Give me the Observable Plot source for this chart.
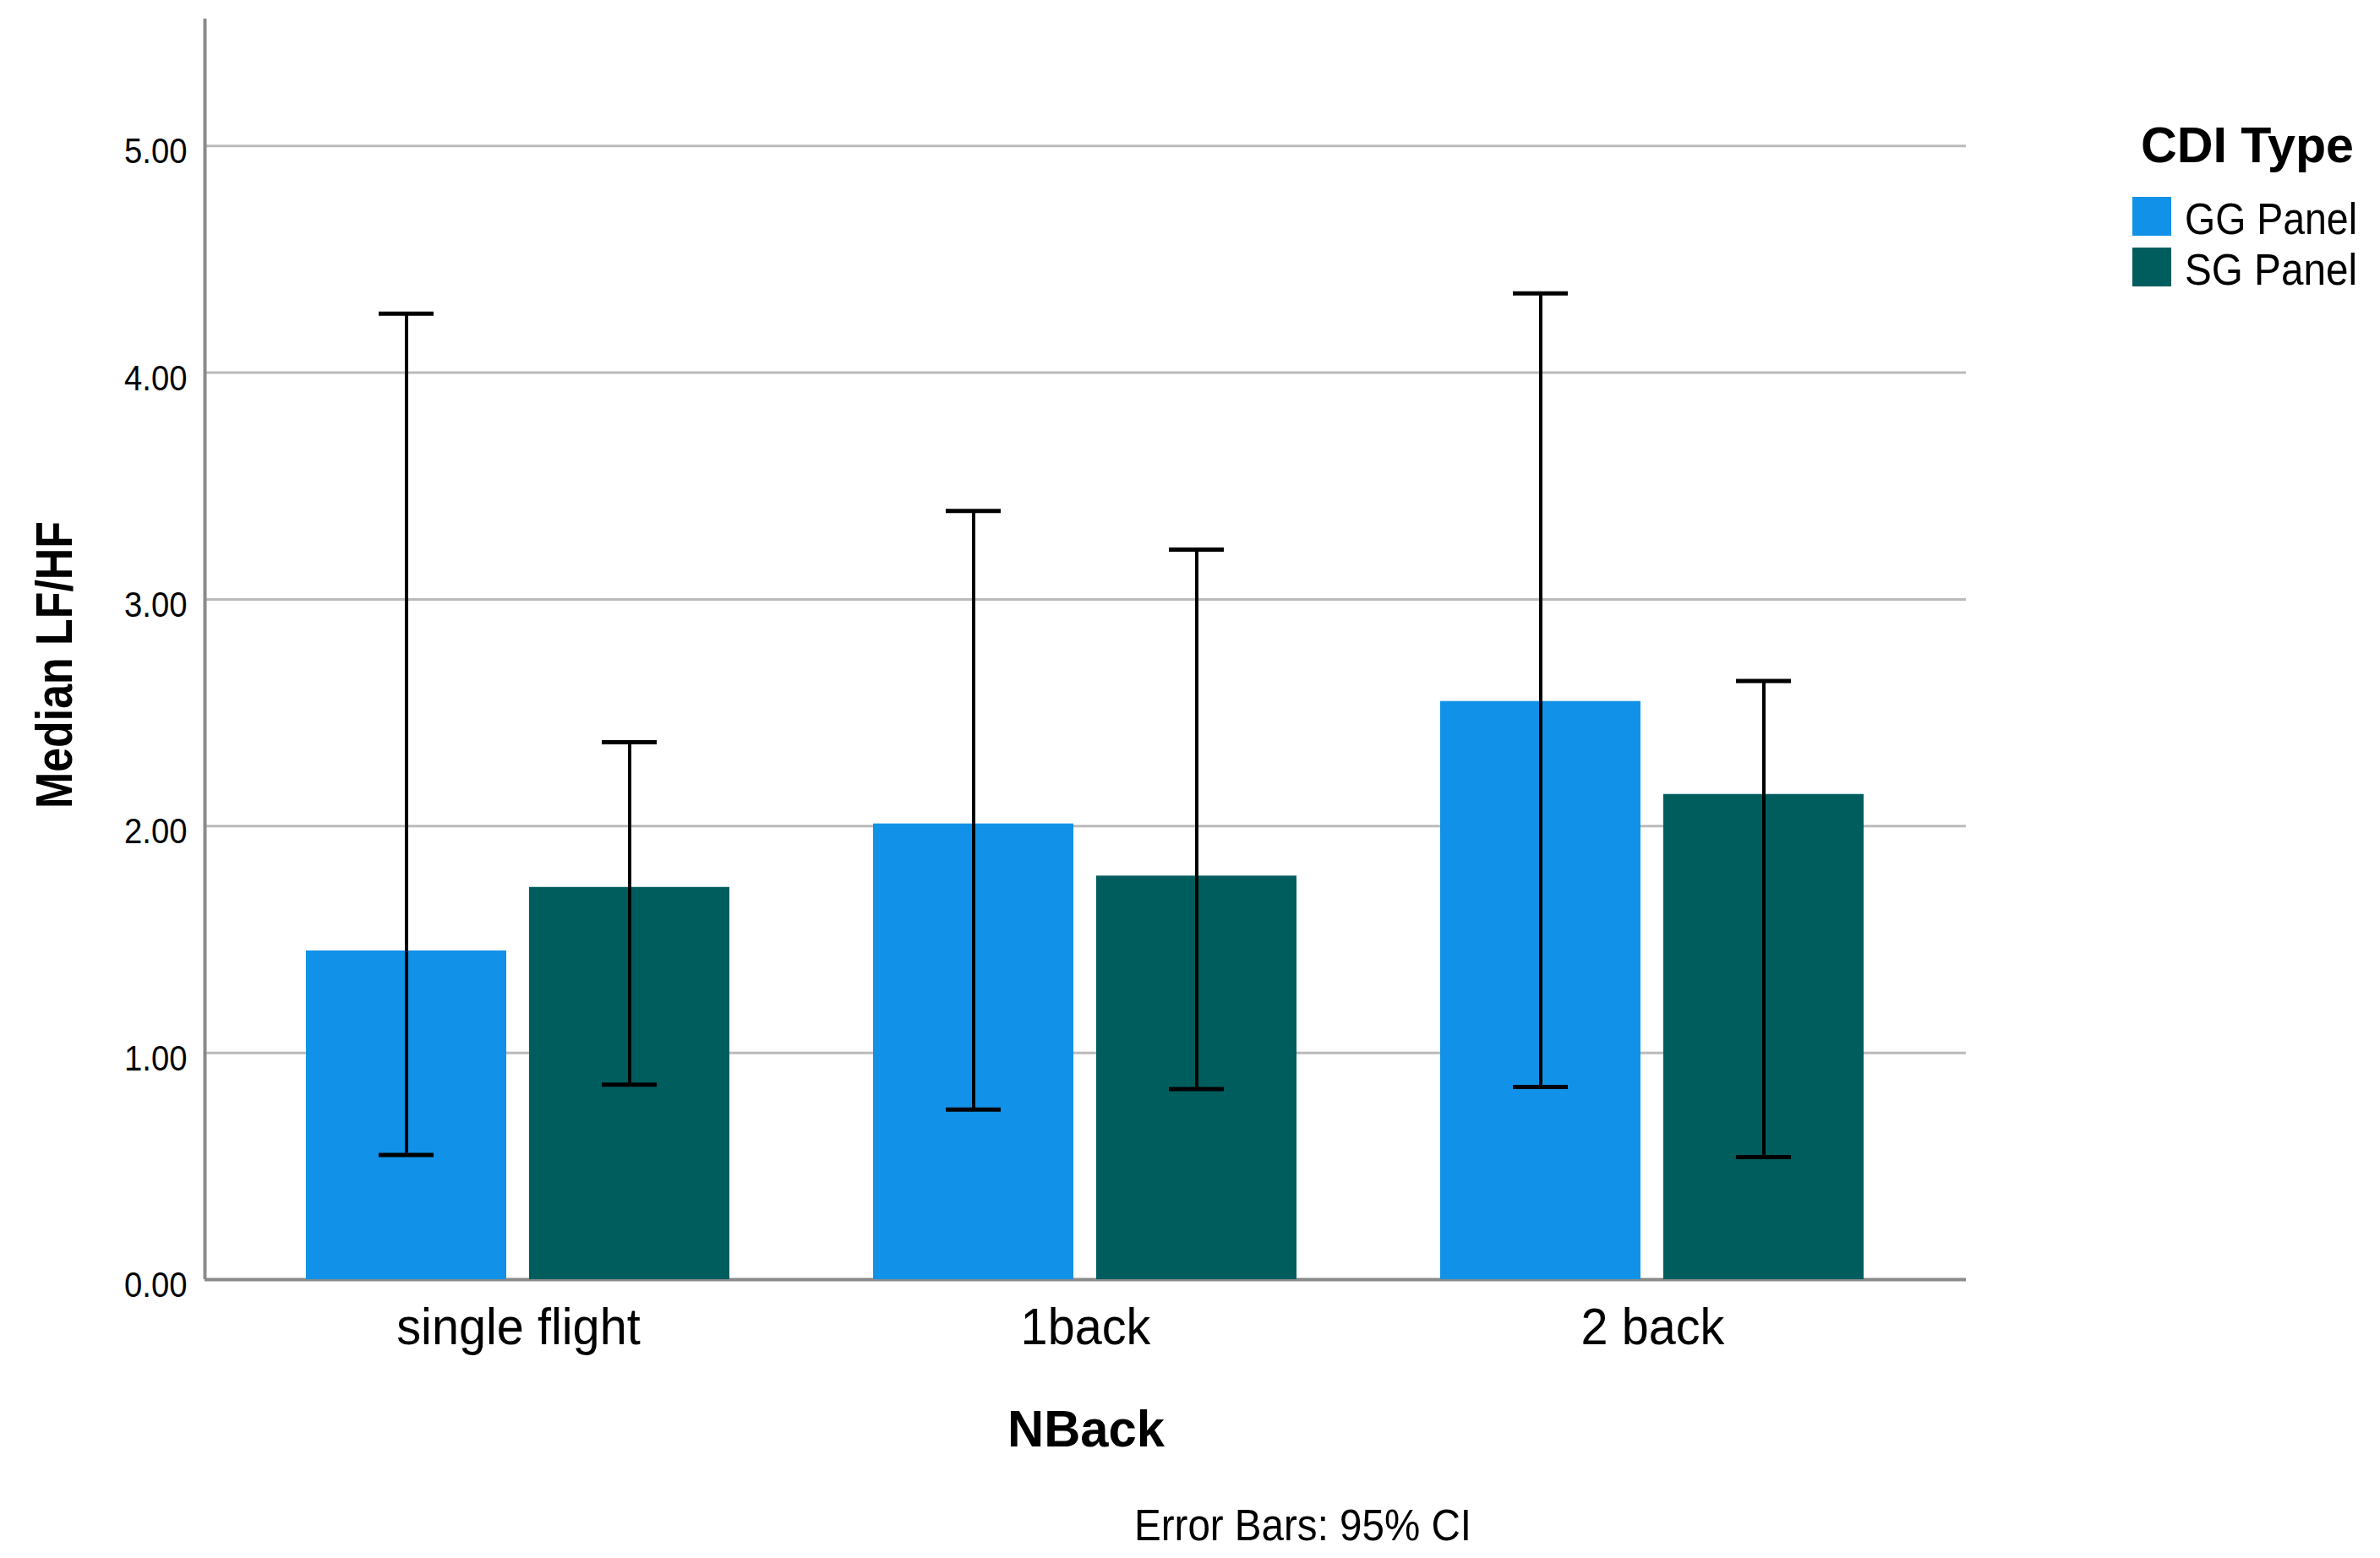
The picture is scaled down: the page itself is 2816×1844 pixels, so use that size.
<!DOCTYPE html>
<html><head><meta charset="utf-8">
<script src="https://cdn.jsdelivr.net/npm/d3@7"></script>
<script src="https://cdn.jsdelivr.net/npm/@observablehq/plot@0.6"></script>
<style>
body{margin:0;background:#fff;}
#chart{position:relative;width:2816px;height:1844px;font-family:"Liberation Sans",Arial,sans-serif;}
#chart > svg{position:absolute;left:0;top:0;}
</style></head><body><div id="chart"></div>
<script>
// ---- data ----
const categories = ["single flight", "1back", "2 back"];
const series = ["GG Panel", "SG Panel"];
const seriesColors = ["#1192e8", "#005d5d"];
const ggMedian = [1.45, 2.01, 2.55];
const ggLow    = [0.55, 0.75, 0.85];
const ggHigh   = [4.26, 3.39, 4.35];
const sgMedian = [1.73, 1.78, 2.14];
const sgLow    = [0.86, 0.84, 0.54];
const sgHigh   = [2.37, 3.22, 2.64];
const yTicks = [0, 1, 2, 3, 4, 5];
const yDomain = [0, 5.56];
const xTitle = "NBack";
const yTitle = "Median LF/HF";
const legendTitle = "CDI Type";
const caption = "Error Bars: 95% CI";

// ---- table ----
const rows = categories.flatMap((c, i) => [
  {nback: c, type: series[0], value: ggMedian[i], lo: ggLow[i], hi: ggHigh[i]},
  {nback: c, type: series[1], value: sgMedian[i], lo: sgLow[i], hi: sgHigh[i]}
]);

// ---- layout ----
const W = 2816, H = 1630;
const M = {left: 242, right: 490, top: 22, bottom: 116};
const font = '"Liberation Sans", Arial, sans-serif';
const chart = document.getElementById("chart");

// slightly condensed glyphs, as in the original rendering
function condense(sel, k) {
  sel.each(function () {
    const len = this.getComputedTextLength();
    if (len > 0) {
      this.setAttribute("textLength", len * k);
      this.setAttribute("lengthAdjust", "spacingAndGlyphs");
    }
  });
}

// background: grid, y axis labels, axis lines
const bg = Plot.plot({
  width: W, height: H,
  marginLeft: M.left, marginRight: M.right, marginTop: M.top, marginBottom: M.bottom,
  style: {background: "transparent", fontFamily: font, color: "black", overflow: "visible"},
  x: {domain: [0, 1], axis: null},
  y: {domain: yDomain, axis: null},
  marks: [
    Plot.ruleY(yTicks.filter(d => d > 0), {stroke: "#bababa", strokeWidth: 3}),
    Plot.axisY({ticks: yTicks, tickSize: 0, tickPadding: 21, tickFormat: d3.format(".2f"), fontSize: 42, dy: 7, label: null}),
    Plot.ruleX([0], {stroke: "#8a8a8a", strokeWidth: 4}),
    Plot.ruleY([0], {stroke: "#8a8a8a", strokeWidth: 4})
  ]
});
chart.appendChild(bg);
condense(d3.select(bg).selectAll("text"), 0.91);

// bars and error bars, grouped by facet
const fg = Plot.plot({
  width: W, height: H,
  marginLeft: M.left, marginRight: M.right, marginTop: M.top, marginBottom: M.bottom,
  style: {background: "transparent", fontFamily: font, color: "black", overflow: "visible"},
  fx: {domain: categories, paddingInner: 0.2515, paddingOuter: 0.177},
  x: {domain: series, paddingInner: 0.102, paddingOuter: 0, axis: null},
  y: {domain: yDomain, axis: null},
  color: {domain: series, range: seriesColors},
  marks: [
    Plot.barY(rows, {fx: "nback", x: "type", y: "value", fill: "type"}),
    Plot.ruleX(rows, {fx: "nback", x: "type", y1: "lo", y2: "hi", stroke: "black", strokeWidth: 4}),
    Plot.tickY(rows, {fx: "nback", x: "type", y: "lo", stroke: "black", strokeWidth: 5, insetLeft: 86, insetRight: 86}),
    Plot.tickY(rows, {fx: "nback", x: "type", y: "hi", stroke: "black", strokeWidth: 5, insetLeft: 86, insetRight: 86}),
    Plot.axisFx({anchor: "bottom", tickSize: 0, tickPadding: 32, fontSize: 62, label: null})
  ]
});
chart.appendChild(fg);
condense(d3.select(fg).selectAll("text"), 0.93);

// titles, caption, legend
const ov = d3.select(chart).append("svg")
  .attr("width", W).attr("height", 1844)
  .style("font-family", font).style("pointer-events", "none");
const yT = ov.append("text").attr("transform", "translate(85,787) rotate(-90)")
  .attr("text-anchor", "middle").attr("font-weight", "bold").attr("font-size", 62).text(yTitle);
yT.attr("textLength", 340).attr("lengthAdjust", "spacingAndGlyphs");
ov.append("text").attr("x", 1285).attr("y", 1712)
  .attr("text-anchor", "middle").attr("font-weight", "bold").attr("font-size", 61)
  .attr("textLength", 186).attr("lengthAdjust", "spacingAndGlyphs").text(xTitle);
ov.append("text").attr("x", 1342).attr("y", 1823)
  .attr("font-size", 51).attr("textLength", 399).attr("lengthAdjust", "spacingAndGlyphs").text(caption);
ov.append("text").attr("x", 2533).attr("y", 192)
  .attr("font-weight", "bold").attr("font-size", 60)
  .attr("textLength", 252).attr("lengthAdjust", "spacingAndGlyphs").text(legendTitle);
const leg = ov.selectAll("g.leg").data(series).join("g").attr("class", "leg")
  .attr("transform", (d, i) => `translate(2523,${233 + i * 60})`);
leg.append("rect").attr("width", 46).attr("height", 46).attr("fill", (d, i) => seriesColors[i]);
leg.append("text").attr("x", 62).attr("y", 44).attr("font-size", 51)
  .attr("textLength", 204).attr("lengthAdjust", "spacingAndGlyphs").text(d => d);
</script></body></html>
